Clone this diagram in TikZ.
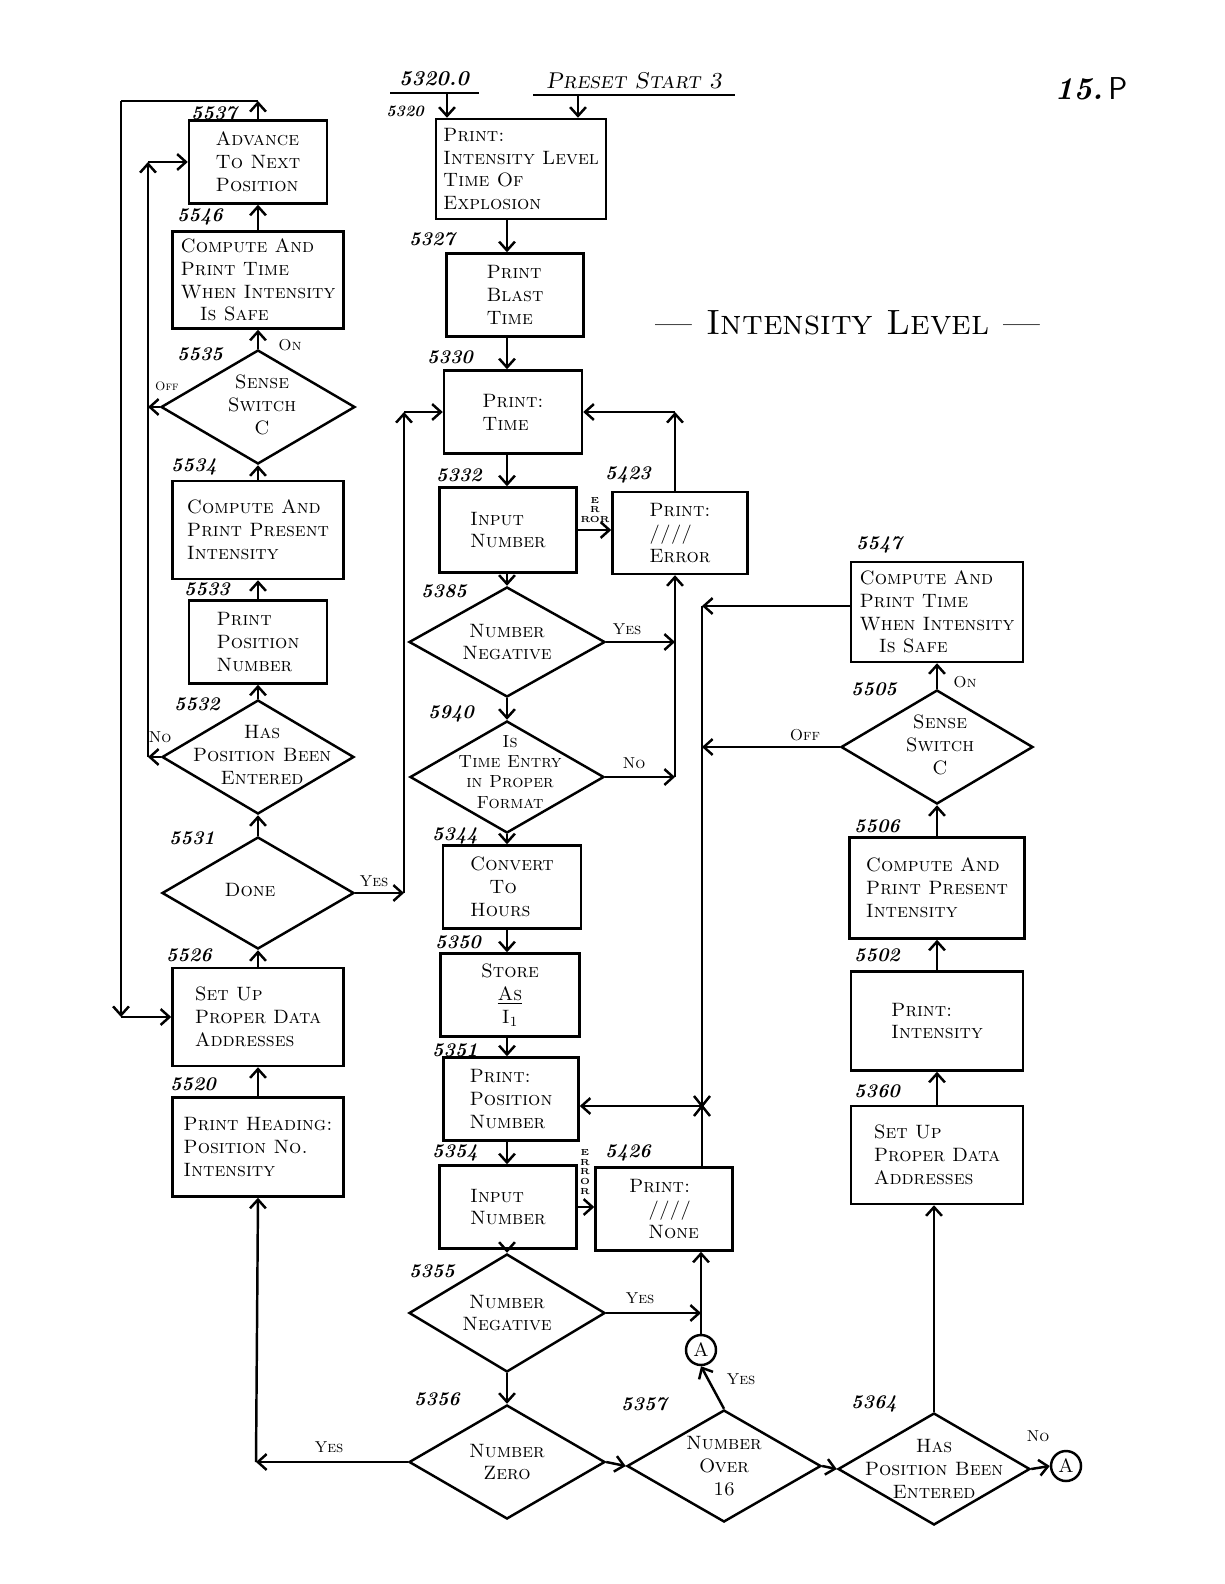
\documentclass[tikz,border=0pt]{standalone}
\usetikzlibrary{shapes.geometric,arrows.meta}
\newcommand\hwtext{\fontsize{11}{13}\selectfont\scshape}
\newcommand\hwnum{\fontsize{11}{13}\selectfont\bfseries\itshape}
\newcommand\hwsmall{\fontsize{9}{10}\selectfont\scshape}
\newcommand\hwtiny{\fontsize{5}{5.6}\selectfont\bfseries}
\tikzset{
  box/.style 2 args={draw, line width=1.4pt, inner sep=0pt, align=left, font=\hwtext,
    minimum width=#1*0.02cm, minimum height=#2*0.02cm},
  dia/.style 2 args={draw, diamond, line width=1.4pt, inner sep=0pt,
    minimum width=#1*0.02cm, minimum height=#2*0.02cm},
  dtext/.style={font=\hwtext, align=center, inner sep=0pt},
  lab/.style={font=\hwnum, inner sep=0pt},
  sml/.style={font=\hwsmall, inner sep=0pt},
  conn/.style={circle, draw, line width=1.4pt, minimum size=30*0.02cm, inner sep=0pt, font=\hwtext},
  arr/.style={line width=1.4pt, -{Straight Barb[length=5pt,width=9pt]}},
  ln/.style={line width=1.4pt},
}
\begin{document}
\begin{tikzpicture}[x=0.02cm, y=-0.02cm]
\useasboundingbox[fill=white] (0,0) rectangle (1224,1584);

% ---------- left column ----------
\node[box={138}{83}] (b5537) at (258,162) {Advance\\To Next\\Position};
\node[box={171}{97}] (b5546) at (258,280) {Compute And\\Print Time\\When Intensity\\\quad Is Safe};
\node[dia={194}{114}] (d5535) at (258,407) {};
\node[dtext] (t5535) at (262,405) {Sense\\Switch\\C};
\node[box={171}{98}] (b5534) at (258,530) {Compute And\\Print Present\\Intensity};
\node[box={138}{83}] (b5533) at (258,642) {Print\\Position\\Number};
\node[dia={192}{114}] (d5532) at (258,757) {};
\node[dtext] (t5532) at (262,755) {Has\\Position Been\\Entered};
\node[dia={192}{112}] (d5531) at (258,893) {};
\node[dtext] (t5531) at (250,890) {Done};
\node[box={171}{98}] (b5526) at (258,1017) {Set Up\\Proper Data\\Addresses};
\node[box={171}{99}] (b5520) at (258,1147) {Print Heading:\\Position No.\\Intensity};

% ---------- middle column ----------
\node[box={170}{100}] (b5320) at (521,169) {Print:\\Intensity Level\\Time Of\\Explosion};
\node[box={137}{83}] (b5327) at (515,295) {Print\\Blast\\Time};
\node[box={138}{83}] (b5330) at (513,412) {Print:\\Time};
\node[box={137}{85}] (b5332) at (508,530) {Input\\Number};
\node[box={135}{82}] (b5423) at (680,533) {Print:\\////\\Error};
\node[dia={196}{110}] (d5385) at (507,642) {};
\node[dtext] (t5385) at (507,642) {Number\\Negative};
\node[dia={194}{112}] (d5340) at (507,777) {};
\node[dtext, font=\fontsize{10}{11.5}\selectfont\scshape] (t5340) at (510,772) {Is\\Time Entry\\in Proper\\Format};
\node[box={138}{83}] (b5344) at (512,887) {Convert\\\quad To\\Hours};
\node[box={139}{83}, align=center] (b5350) at (510,995) {Store\\\underline{As}\\I$_1$};
\node[box={135}{83}] (b5351) at (511,1099) {Print:\\Position\\Number};
\node[box={137}{83}] (b5354) at (508,1207) {Input\\Number};
\node[box={137}{83}] (b5426) at (664,1209) {Print:\\\quad////\\\quad None};
\node[dia={196}{118}] (d5355) at (507,1313) {};
\node[dtext] (t5355) at (507,1313) {Number\\Negative};
\node[dia={196}{114}] (d5356) at (507,1462) {};
\node[dtext] (t5356) at (507,1462) {Number\\Zero};
\node[dia={194}{112}] (d5357) at (724,1466) {};
\node[dtext] (t5357) at (724,1466) {Number\\Over\\16};
\node[dia={192}{112}] (d5364) at (934,1469) {};
\node[dtext] (t5364) at (934,1469) {Has\\Position Been\\Entered};
\node[conn] (cA1) at (701,1350) {A};
\node[conn] (cA2) at (1066,1466) {A};

% ---------- right column ----------
\node[box={172}{100}] (b5547) at (937,612) {Compute And\\Print Time\\When Intensity\\\quad Is Safe};
\node[dia={192}{114}] (d5505) at (937,747) {};
\node[dtext] (t5505) at (940,745) {Sense\\Switch\\C};
\node[box={175}{101}] (b5506) at (937,888) {Compute And\\Print Present\\Intensity};
\node[box={172}{99}] (b5502) at (937,1021) {Print:\\Intensity};
\node[box={172}{98}] (b5360) at (937,1155) {Set Up\\Proper Data\\Addresses};

% ---------- headings ----------
\node[lab, font=\fontsize{12}{14}\selectfont\bfseries\itshape] (h53200) at (434,79) {5320.0};
\node[sml, font=\fontsize{13}{15}\selectfont\scshape\itshape] (hpreset) at (634,81) {Preset Start 3};
\node[inner sep=0pt, font=\fontsize{20}{24}\selectfont\scshape] (title) at (848,323) {--- Intensity Level ---};
\node[inner sep=0pt, font=\fontsize{18}{20}\selectfont] (page) at (1091,89) {\bfseries\itshape 15.\,{\mdseries\upshape\sffamily P}};

% ---------- helper coordinates ----------
\coordinate (L1) at (121,101);
\coordinate (L2) at (121,1017);
\coordinate (I1) at (148,757);
\coordinate (I2) at (148,162);
\coordinate (Y1) at (404,893);
\coordinate (Y2) at (404,412);
\coordinate (mx) at (507,0);
\coordinate (ex) at (675,0);
\coordinate (E1) at (675,412);
\coordinate (E2) at (675,777);
\coordinate (J1) at (702,606);
\coordinate (J2) at (702,1106);
\coordinate (Z1) at (256,1462);
\coordinate (u1) at (447,93);
\coordinate (u2) at (578,95);

% underlines of headings
\draw[ln] (390,93) -- (479,93);
\draw[ln] (533,95) -- (735,95);

% ---------- connectors: left ----------
\draw[arr] (b5537.north) -- (b5537.north |- L1);
\draw[ln] (b5537.north |- L1) -- (L1);
\draw[arr] (L1) -- (L2);
\draw[arr] (L2) -- (b5526.west);

\draw[arr] (d5535.west) -- (d5535.west -| I1);
\draw[arr] (d5532.west) -- (I1);
\draw[arr] (I1) -- (I2);
\draw[arr] (I2) -- (b5537.west);

\draw[arr] (b5546.north) -- (b5537.south);
\draw[arr] (d5535.north) -- (b5546.south);
\draw[arr] (b5534.north) -- (d5535.south);
\draw[arr] (b5533.north) -- (b5534.south);
\draw[arr] (d5532.north) -- (b5533.south);
\draw[arr] (d5531.north) -- (d5532.south);
\draw[arr] (b5526.north) -- (d5531.south);
\draw[arr] (b5520.north) -- (b5526.south);

\draw[arr] (d5531.east) -- (Y1);
\draw[arr] (Y1) -- (Y2);
\draw[arr] (Y2) -- (b5330.west);

% ---------- connectors: middle ----------
\draw[arr] (u1) -- (b5320.north -| u1);
\draw[arr] (u2) -- (b5320.north -| u2);
\draw[arr] (b5320.south -| mx) -- (b5327.north -| mx);
\draw[arr] (b5327.south -| mx) -- (b5330.north -| mx);
\draw[arr] (b5330.south -| mx) -- (b5332.north -| mx);
\draw[arr] (b5332.south -| mx) -- (d5385.north);
\draw[arr] (d5385.south) -- (d5340.north);
\draw[arr] (d5340.south) -- (b5344.north -| mx);
\draw[arr] (b5344.south -| mx) -- (b5350.north -| mx);
\draw[arr] (b5350.south -| mx) -- (b5351.north -| mx);
\draw[arr] (b5351.south -| mx) -- (b5354.north -| mx);
\draw[arr] (b5354.south -| mx) -- (d5355.north);
\draw[arr] (d5355.south) -- (d5356.north);

\draw[arr] (b5332.east) -- (b5332.east -| b5423.west);
\draw[arr] (b5423.north -| ex) -- (E1);
\draw[arr] (E1) -- (b5330.east);
\draw[arr] (d5385.east) -- (d5385.east -| ex);
\draw[arr] (d5340.east) -- (E2);
\draw[arr] (E2) -- (b5423.south -| ex);

\draw[arr] (b5354.east) -- (b5354.east -| b5426.west);

% ---------- connectors: bottom ----------
\draw[arr] (d5356.west) -- (Z1);
\draw[arr] (Z1) -- (b5520.south);
\draw[arr] (d5356.east) -- (d5357.west);
\draw[arr] (d5357.east) -- (d5364.west);
\draw[arr] (d5364.east) -- (cA2.west);
\draw[arr] (d5357.north) -- (cA1.south);
\draw[arr] (d5355.east) -- (d5355.east -| cA1);
\draw[arr] (cA1.north) -- (cA1.north |- b5426.south);

% ---------- connectors: right ----------
\draw[arr] (b5547.west |- J1) -- (J1);
\draw[arr] (d5505.west) -- (d5505.west -| J1);
\draw[ln] (J1) -- (J2);
\draw[ln] (b5426.north -| J2) -- (J2);
\draw[arr] (J2) -- (J2 -| b5351.east);
\draw[ln] (J2) ++(-8,-10) -- ++(16,20);
\draw[ln] (J2) ++(-8,10) -- ++(16,-20);

\draw[arr] (d5364.north) -- (d5364.north |- b5360.south);
\draw[arr] (b5360.north) -- (b5502.south);
\draw[arr] (b5502.north) -- (b5506.south);
\draw[arr] (b5506.north) -- (d5505.south);
\draw[arr] (d5505.north) -- (b5547.south);

% ---------- step numbers ----------
\node[lab] (n5537) at (214,113) {5537};
\node[lab] (n5546) at (200,217) {5546};
\node[lab] (n5535) at (200,354) {5535};
\node[lab] (n5534) at (194,467) {5534};
\node[lab] (n5533) at (207,589) {5533};
\node[lab] (n5532) at (197,704) {5532};
\node[lab] (n5531) at (192,838) {5531};
\node[lab] (n5526) at (189,955) {5526};
\node[lab] (n5520) at (193,1084) {5520};
\node[lab, font=\fontsize{9}{10}\selectfont\bfseries\itshape] (n5320) at (405,111) {5320};
\node[lab] (n5327) at (432,239) {5327};
\node[lab] (n5330) at (450,357) {5330};
\node[lab] (n5332) at (459,475) {5332};
\node[lab] (n5423) at (628,475) {5423};
\node[lab] (n5385) at (444,591) {5385};
\node[lab] (n5340) at (451,714) {5940};
\node[lab] (n5344) at (455,836) {5344};
\node[lab] (n5350) at (458,942) {5350};
\node[lab] (n5351) at (455,1050) {5351};
\node[lab] (n5354) at (455,1153) {5354};
\node[lab] (n5426) at (628,1153) {5426};
\node[lab] (n5355) at (432,1271) {5355};
\node[lab] (n5356) at (437,1399) {5356};
\node[lab] (n5357) at (644,1404) {5357};
\node[lab] (n5364) at (874,1404) {5364};
\node[lab] (n5547) at (879,545) {5547};
\node[lab] (n5505) at (874,689) {5505};
\node[lab] (n5506) at (877,826) {5506};
\node[lab] (n5502) at (877,955) {5502};
\node[lab] (n5360) at (877,1091) {5360};

% ---------- branch labels ----------
\node[sml] (on1) at (290,345) {On};
\node[sml, font=\fontsize{7}{8}\selectfont\scshape] (off1) at (167,386) {Off};
\node[sml] (no1) at (160,737) {No};
\node[sml] (yes1) at (374,881) {Yes};
\node[sml] (yes2) at (627,629) {Yes};
\node[sml] (no2) at (634,763) {No};
\node[sml] (yes3) at (640,1298) {Yes};
\node[sml] (yes4) at (329,1447) {Yes};
\node[sml] (yes5) at (741,1379) {Yes};
\node[sml] (no3) at (1038,1436) {No};
\node[sml] (on2) at (965,682) {On};
\node[sml] (off2) at (805,735) {Off};
\node[inner sep=0pt, font=\hwtiny, align=center] (err1) at (595,510) {E\\R\\ROR};
\node[inner sep=0pt, font=\hwtiny, align=center] (err2) at (585,1172) {E\\R\\R\\O\\R};
\end{tikzpicture}
\end{document}
